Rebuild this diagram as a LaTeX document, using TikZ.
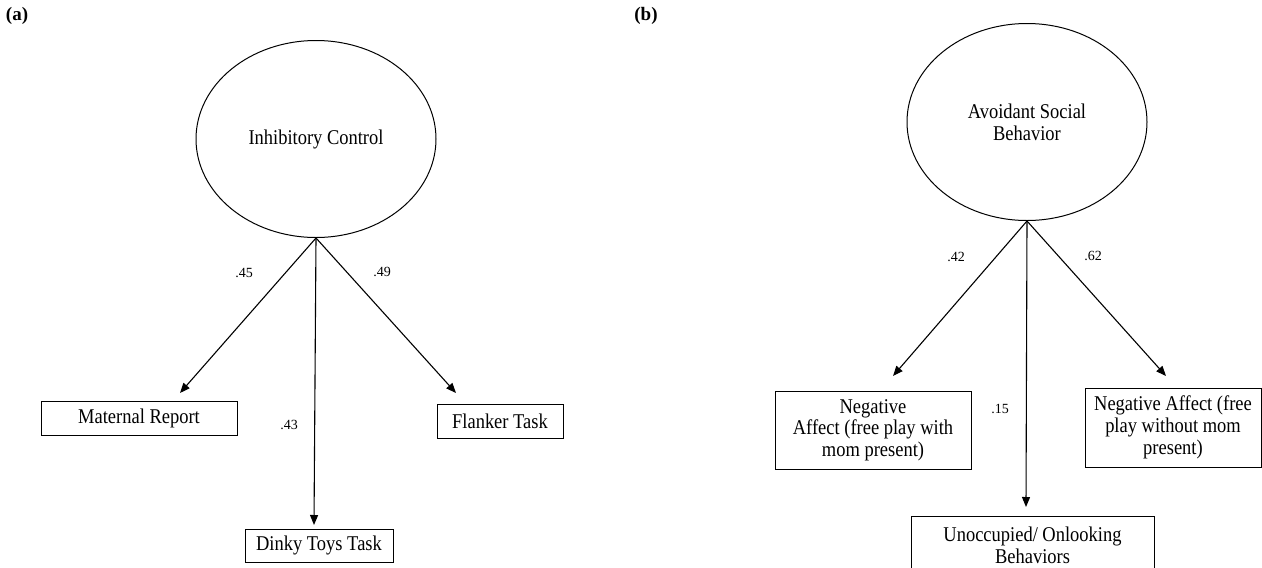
\documentclass[tikz,border=0pt]{standalone}
\usepackage{fontspec}
\setmainfont{Liberation Serif}
\newfontfamily\narrowserif{Liberation Serif}[FakeStretch=0.88]
\usetikzlibrary{arrows.meta,shapes.geometric}
\begin{document}
\begin{tikzpicture}[x=1pt,y=-1pt,
  latent/.style={draw,ellipse,line width=1pt,inner sep=0pt,minimum width=240pt,minimum height=197pt,font=\narrowserif\fontsize{21}{21.7}\selectfont,align=center},
  obs/.style={draw,rectangle,line width=0.9pt,inner sep=0pt,font=\narrowserif\fontsize{21}{21.7}\selectfont,align=center},
  load/.style={font=\fontsize{14}{16}\selectfont,inner sep=0pt},
  loadpath/.style={line width=1.1pt,-{Triangle[length=10pt,width=8pt]}},
  panel/.style={font=\fontsize{19}{20}\selectfont\bfseries,inner sep=0pt}]
\clip (0,0) rectangle (1262,568);
\fill[white] (0,0) rectangle (1262,568);
% panel (a)
\node[panel] (pa) at (17,16) {(a)};
\node[latent] (ic) at (316,139) {Inhibitory Control};
\node[obs,minimum width=196pt,minimum height=34pt] (mat) at (139,418) {Maternal Report};
\node[obs,minimum width=126pt,minimum height=34pt] (fla) at (500,421) {Flanker Task};
\node[obs,minimum width=148pt,minimum height=33pt] (din) at (319,545.5) {Dinky Toys Task};
\coordinate (tmat) at (180,393);
\coordinate (tfla) at (456,393);
\coordinate (tdin) at (314,525);
\draw[loadpath] (ic.south) -- (tmat);
\draw[loadpath] (ic.south) -- (tfla);
\draw[loadpath] (ic.south) -- (tdin);
\node[load] (l45) at (244,273) {.45};
\node[load] (l49) at (382,272) {.49};
\node[load] (l43) at (289,425) {.43};
% panel (b)
\node[panel] (pb) at (646,16) {(b)};
\node[latent] (asb) at (1027,122) {Avoidant Social\\Behavior};
\node[obs,minimum width=196pt,minimum height=78pt] (na1) at (873,430) {Negative\\Affect (free play with\\mom present)};
\node[obs,minimum width=176pt,minimum height=79pt] (na2) at (1173,427.5) {Negative Affect (free\\play without mom\\present)};
\node[obs,minimum width=243pt,minimum height=58pt] (uno) at (1032.5,545) {Unoccupied/ Onlooking\\Behaviors};
\coordinate (tna1) at (893,376);
\coordinate (tna2) at (1166,376);
\coordinate (tuno) at (1026,507);
\draw[loadpath] (asb.south) -- (tna1);
\draw[loadpath] (asb.south) -- (tna2);
\draw[loadpath] (asb.south) -- (tuno);
\node[load] (l42) at (956,257) {.42};
\node[load] (l62) at (1093,256) {.62};
\node[load] (l15) at (1000,409) {.15};
\end{tikzpicture}
\end{document}
